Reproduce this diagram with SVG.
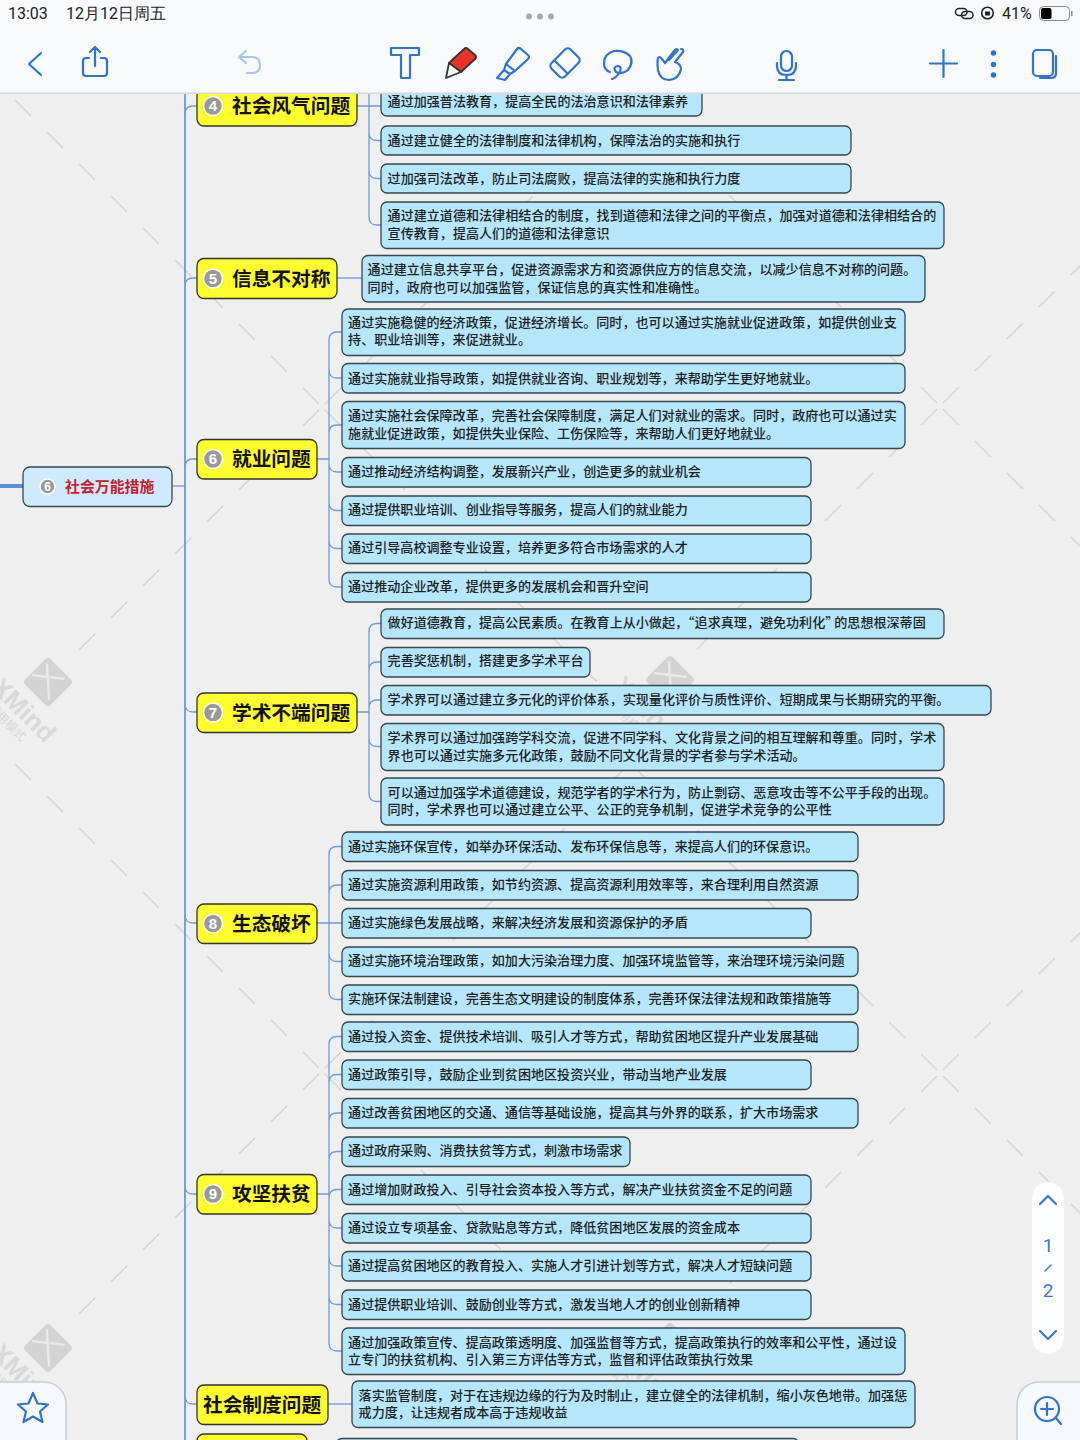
<svg xmlns="http://www.w3.org/2000/svg" xmlns:xlink="http://www.w3.org/1999/xlink" width="1080" height="1440" viewBox="0 0 1080 1440">
<style>
text{font-family:"Noto Sans CJK SC","Noto Sans",sans-serif}
.b{fill:#b5e6f9;stroke:#36474f;stroke-width:1.3}
.y{fill:#fdfd2e;stroke:#333;stroke-width:1.3}
.t{font-size:13.07px;font-weight:500;fill:#222;transform:translate(-.4px,-.8px)}
.h{font-size:19.7px;font-weight:700;fill:#111}
.m{fill:#999;stroke:#fff;stroke-width:1.5}
.n{font-size:15px;font-weight:700;fill:#fff;text-anchor:middle;font-family:"Liberation Sans",sans-serif}
.c{fill:none;stroke:#6f9bd8;stroke-width:1.3}
.wm{fill:none;stroke:#d6d6d6;stroke-width:1.6;stroke-dasharray:22.6 22.6}
.ic{fill:none;stroke:#2f72d2;stroke-width:2.2;stroke-linecap:round;stroke-linejoin:round}
.st{font-family:"Roboto","Liberation Sans",sans-serif;font-size:16px;fill:#222}
.pg{font-family:"Roboto","Liberation Sans",sans-serif;font-size:19px;fill:#3d75d0;text-anchor:middle}
</style>
<defs>
<g id="cross">
<path class="wm" d="M-3 -3L-310 -310"/>
<path class="wm" d="M3 -3L310 -310"/>
<path class="wm" d="M3 3L310 310"/>
<path class="wm" d="M-3 3L-245 245"/>
</g>
<g id="logo">
<rect x="-18" y="-18" width="36" height="36" rx="4" fill="#d3d3d3" transform="rotate(45)"/>
<path d="M-16 -4L15 -6M-4 -17L4 17" stroke="#e9e9e9" stroke-width="2.4" fill="none" stroke-linecap="round" transform="rotate(10)"/>
<text transform="translate(-3 62) rotate(45)" text-anchor="end" font-size="26" font-weight="700" fill="#d9d9d9" style="font-family:'Liberation Sans',sans-serif">XMind</text>
<text transform="translate(-27 60) rotate(45)" text-anchor="end" font-size="12" fill="#d9d9d9">试用模式</text>
</g>
</defs>
<rect width="1080" height="1440" fill="#efefef"/>
<g id="watermark">
<use href="#cross" x="322" y="407"/><use href="#cross" x="940" y="406"/><use href="#cross" x="322" y="1071"/><use href="#cross" x="940" y="1073"/>
<use href="#logo" x="48" y="682"/><use href="#logo" x="670" y="680"/><use href="#logo" x="48" y="1348"/><use href="#logo" x="670" y="1347"/>
</g>
<g id="connectors">
<path d="M0 486H23" fill="none" stroke="#5b8fd8" stroke-width="4"/>
<path class="c" d="M172 486H185" />
<path d="M185 90V1440" fill="none" stroke="#5b8fd8" stroke-width="1.6"/>
<path class="c" d="M185 114Q185 106 193 106H197M185 286Q185 278 193 278H197M185 467Q185 459 193 459H197M185 704Q185 712 193 712H197M185 915Q185 923 193 923H197M185 1186Q185 1194 193 1194H197M185 1396Q185 1404 193 1404H197"/>
<path class="c" d="M357 106H381M369 90V217Q369 225 377 225H381M369 132.5Q369 140.5 377 140.5H381M369 170.5Q369 178.5 377 178.5H381"/>
<path class="c" d="M337 278H362"/>
<path class="c" d="M317 459H329M342 332H337Q329 332 329 340V579Q329 587 337 587H342M329 370Q329 378 337 378H342M329 433Q329 425 337 425H342M329 464Q329 472 337 472H342M329 502.5Q329 510.5 337 510.5H342M329 540.5Q329 548.5 337 548.5H342"/>
<path class="c" d="M357 712H369M381 623.5H377Q369 623.5 369 631.5V793.5Q369 801.5 377 801.5H381M369 670Q369 662 377 662H381M369 708Q369 700 377 700H381M369 738.5Q369 746.5 377 746.5H381"/>
<path class="c" d="M317 923H342M342 846.5H337Q329 846.5 329 854.5V991.5Q329 999.5 337 999.5H342M329 893Q329 885 337 885H342M329 953.5Q329 961.5 337 961.5H342"/>
<path class="c" d="M317 1194H329M342 1036.5H337Q329 1036.5 329 1044.5V1343Q329 1351 337 1351H342M329 1082.5Q329 1074.5 337 1074.5H342M329 1121Q329 1113 337 1113H342M329 1159.5Q329 1151.5 337 1151.5H342M329 1197.5Q329 1189.5 337 1189.5H342M329 1220Q329 1228 337 1228H342M329 1258Q329 1266 337 1266H342M329 1296.5Q329 1304.5 337 1304.5H342"/>
<path class="c" d="M328 1404H352"/>
</g>
<g id="center"><rect x="23" y="467" width="149" height="39.500" rx="7" fill="#cfeafd" stroke="#36474f" stroke-width="1.3"/><circle class="m" cx="47.500" cy="486.500" r="7.500"/><text class="n" x="47.500" y="491" style="font-size:12px">6</text><text x="65" y="492" font-size="14.900" font-weight="700" fill="#c8202a">社会万能措施</text></g>
<g id="t4"><rect class="y" x="197" y="86" width="160" height="40" rx="7"/><circle class="m" cx="213" cy="106" r="9.500"/><text class="n" x="213" y="111">4</text><text class="h" x="232" y="113">社会风气问题</text></g>
<g id="t5"><rect class="y" x="197" y="258.500" width="140" height="40" rx="7"/><circle class="m" cx="213" cy="278.500" r="9.500"/><text class="n" x="213" y="283.500">5</text><text class="h" x="232" y="285.500">信息不对称</text></g>
<g id="t6"><rect class="y" x="197" y="439.500" width="120" height="39.500" rx="7"/><circle class="m" cx="213" cy="459" r="9.500"/><text class="n" x="213" y="464">6</text><text class="h" x="232" y="466">就业问题</text></g>
<g id="t7"><rect class="y" x="197" y="693" width="160" height="39.500" rx="7"/><circle class="m" cx="213" cy="712.500" r="9.500"/><text class="n" x="213" y="717.500">7</text><text class="h" x="232" y="719.500">学术不端问题</text></g>
<g id="t8"><rect class="y" x="197" y="904" width="120" height="39.500" rx="7"/><circle class="m" cx="213" cy="923.500" r="9.500"/><text class="n" x="213" y="928.500">8</text><text class="h" x="232" y="930.500">生态破坏</text></g>
<g id="t9"><rect class="y" x="197" y="1174.500" width="120" height="39.500" rx="7"/><circle class="m" cx="213" cy="1194" r="9.500"/><text class="n" x="213" y="1199">9</text><text class="h" x="232" y="1201">攻坚扶贫</text></g>
<g id="t10"><rect class="y" x="197" y="1385" width="131" height="39.500" rx="7"/><text class="h" x="203" y="1411.500">社会制度问题</text></g>
<g id="t11"><rect class="y" x="197" y="1434" width="110" height="40" rx="7"/></g>
<g id="n1"><rect class="b" x="381" y="80" width="321" height="36" rx="6"/><text class="t" x="388" y="106.500">通过加强普法教育，提高全民的法治意识和法律素养</text></g>
<g id="n2"><rect class="b" x="381" y="126" width="470" height="29" rx="6"/><text class="t" x="388" y="145.500">通过建立健全的法律制度和法律机构，保障法治的实施和执行</text></g>
<g id="n3"><rect class="b" x="381" y="164" width="470" height="29" rx="6"/><text class="t" x="388" y="183.500">过加强司法改革，防止司法腐败，提高法律的实施和执行力度</text></g>
<g id="n4"><rect class="b" x="381" y="202" width="563" height="46.500" rx="6"/><text class="t" x="388" y="221">通过建立道德和法律相结合的制度，找到道德和法律之间的平衡点，加强对道德和法律相结合的</text><text class="t" x="388" y="238.500">宣传教育，提高人们的道德和法律意识</text></g>
<g id="n5"><rect class="b" x="362" y="255.500" width="563" height="46.500" rx="6"/><text class="t" x="368" y="275">通过建立信息共享平台，促进资源需求方和资源供应方的信息交流，以减少信息不对称的问题。</text><text class="t" x="368" y="292.500">同时，政府也可以加强监管，保证信息的真实性和准确性。</text></g>
<g id="n6"><rect class="b" x="342" y="309" width="563" height="46.500" rx="6"/><text class="t" x="348.500" y="328">通过实施稳健的经济政策，促进经济增长。同时，也可以通过实施就业促进政策，如提供创业支</text><text class="t" x="348.500" y="345">持、职业培训等，来促进就业。</text></g>
<g id="n7"><rect class="b" x="342" y="363.500" width="563" height="29.500" rx="6"/><text class="t" x="348.500" y="383.500">通过实施就业指导政策，如提供就业咨询、职业规划等，来帮助学生更好地就业。</text></g>
<g id="n8"><rect class="b" x="342" y="401.500" width="563" height="47" rx="6"/><text class="t" x="348.500" y="421">通过实施社会保障改革，完善社会保障制度，满足人们对就业的需求。同时，政府也可以通过实</text><text class="t" x="348.500" y="438.500">施就业促进政策，如提供失业保险、工伤保险等，来帮助人们更好地就业。</text></g>
<g id="n9"><rect class="b" x="342" y="457.500" width="469" height="29.500" rx="6"/><text class="t" x="348.500" y="476.500">通过推动经济结构调整，发展新兴产业，创造更多的就业机会</text></g>
<g id="n10"><rect class="b" x="342" y="496" width="469" height="29.500" rx="6"/><text class="t" x="348.500" y="515">通过提供职业培训、创业指导等服务，提高人们的就业能力</text></g>
<g id="n11"><rect class="b" x="342" y="534" width="469" height="29.500" rx="6"/><text class="t" x="348.500" y="553">通过引导高校调整专业设置，培养更多符合市场需求的人才</text></g>
<g id="n12"><rect class="b" x="342" y="572.500" width="469" height="29.500" rx="6"/><text class="t" x="348.500" y="591.500">通过推动企业改革，提供更多的发展机会和晋升空间</text></g>
<g id="n13"><rect class="b" x="381" y="609" width="563" height="29.500" rx="6"/><text class="t" x="388" y="628">做好道德教育，提高公民素质。在教育上从小做起，“追求真理，避免功利化”<tspan dx="-4">的思想根深蒂固</tspan></text></g>
<g id="n14"><rect class="b" x="381" y="647.500" width="209" height="29.500" rx="6"/><text class="t" x="388" y="666">完善奖惩机制，搭建更多学术平台</text></g>
<g id="n15"><rect class="b" x="381" y="685.500" width="610" height="29.500" rx="6"/><text class="t" x="388" y="704.500">学术界可以通过建立多元化的评价体系，实现量化评价与质性评价、短期成果与长期研究的平衡。</text></g>
<g id="n16"><rect class="b" x="381" y="723.500" width="563" height="47" rx="6"/><text class="t" x="388" y="743">学术界可以通过加强跨学科交流，促进不同学科、文化背景之间的相互理解和尊重。同时，学术</text><text class="t" x="388" y="760.500">界也可以通过实施多元化政策，鼓励不同文化背景的学者参与学术活动。</text></g>
<g id="n17"><rect class="b" x="381" y="778" width="563" height="47" rx="6"/><text class="t" x="388" y="797.500">可以通过加强学术道德建设，规范学者的学术行为，防止剽窃、恶意攻击等不公平手段的出现。</text><text class="t" x="388" y="815">同时，学术界也可以通过建立公平、公正的竞争机制，促进学术竞争的公平性</text></g>
<g id="n18"><rect class="b" x="342" y="832" width="516" height="29.500" rx="6"/><text class="t" x="348.500" y="851.500">通过实施环保宣传，如举办环保活动、发布环保信息等，来提高人们的环保意识。</text></g>
<g id="n19"><rect class="b" x="342" y="870.500" width="516" height="29.500" rx="6"/><text class="t" x="348.500" y="889.500">通过实施资源利用政策，如节约资源、提高资源利用效率等，来合理利用自然资源</text></g>
<g id="n20"><rect class="b" x="342" y="908.500" width="469" height="29.500" rx="6"/><text class="t" x="348.500" y="928">通过实施绿色发展战略，来解决经济发展和资源保护的矛盾</text></g>
<g id="n21"><rect class="b" x="342" y="947" width="516" height="29.500" rx="6"/><text class="t" x="348.500" y="966">通过实施环境治理政策，如加大污染治理力度、加强环境监管等，来治理环境污染问题</text></g>
<g id="n22"><rect class="b" x="342" y="985" width="516" height="29.500" rx="6"/><text class="t" x="348.500" y="1004">实施环保法制建设，完善生态文明建设的制度体系，完善环保法律法规和政策措施等</text></g>
<g id="n23"><rect class="b" x="342" y="1022" width="516" height="29.500" rx="6"/><text class="t" x="348.500" y="1041.500">通过投入资金、提供技术培训、吸引人才等方式，帮助贫困地区提升产业发展基础</text></g>
<g id="n24"><rect class="b" x="342" y="1060" width="469" height="29.500" rx="6"/><text class="t" x="348.500" y="1079.500">通过政策引导，鼓励企业到贫困地区投资兴业，带动当地产业发展</text></g>
<g id="n25"><rect class="b" x="342" y="1098.500" width="516" height="29.500" rx="6"/><text class="t" x="348.500" y="1118">通过改善贫困地区的交通、通信等基础设施，提高其与外界的联系，扩大市场需求</text></g>
<g id="n26"><rect class="b" x="342" y="1137" width="288" height="29.500" rx="6"/><text class="t" x="348.500" y="1156">通过政府采购、消费扶贫等方式，刺激市场需求</text></g>
<g id="n27"><rect class="b" x="342" y="1175" width="469" height="29.500" rx="6"/><text class="t" x="348.500" y="1194.500">通过增加财政投入、引导社会资本投入等方式，解决产业扶贫资金不足的问题</text></g>
<g id="n28"><rect class="b" x="342" y="1213.500" width="469" height="29.500" rx="6"/><text class="t" x="348.500" y="1232.500">通过设立专项基金、贷款贴息等方式，降低贫困地区发展的资金成本</text></g>
<g id="n29"><rect class="b" x="342" y="1251.500" width="469" height="29.500" rx="6"/><text class="t" x="348.500" y="1270.500">通过提高贫困地区的教育投入、实施人才引进计划等方式，解决人才短缺问题</text></g>
<g id="n30"><rect class="b" x="342" y="1290" width="469" height="29.500" rx="6"/><text class="t" x="348.500" y="1309.500">通过提供职业培训、鼓励创业等方式，激发当地人才的创业创新精神</text></g>
<g id="n31"><rect class="b" x="342" y="1328" width="563" height="46.500" rx="6"/><text class="t" x="348.500" y="1347.500">通过加强政策宣传、提高政策透明度、加强监督等方式，提高政策执行的效率和公平性，通过设</text><text class="t" x="348.500" y="1365">立专门的扶贫机构、引入第三方评估等方式，监督和评估政策执行效果</text></g>
<g id="n32"><rect class="b" x="352" y="1381" width="563" height="46.500" rx="6"/><text class="t" x="359" y="1400.500">落实监管制度，对于在违规边缘的行为及时制止，建立健全的法律机制，缩小灰色地带。加强惩</text><text class="t" x="359" y="1418">戒力度，让违规者成本高于违规收益</text></g>
<g id="n33"><rect class="b" x="336" y="1438.500" width="463" height="40" rx="6"/></g>
<g id="toolbar">
<rect width="1080" height="93" fill="#f7f9fa"/>
<rect y="92.500" width="1080" height="1.500" fill="#d6d8da"/>
<text class="st" x="8" y="19">13:03</text><text class="st" x="66" y="19">12月12日周五</text>
<circle cx="529" cy="16.500" r="3" fill="#a8a8a8"/><circle cx="540" cy="16.500" r="3" fill="#a8a8a8"/><circle cx="551" cy="16.500" r="3" fill="#a8a8a8"/>
<rect x="955.500" y="8.500" width="11.500" height="7" rx="3.500" fill="none" stroke="#222" stroke-width="1.500"/><rect x="961.500" y="11.500" width="11.500" height="7" rx="3.500" fill="none" stroke="#222" stroke-width="1.500"/>
<circle cx="987.500" cy="13" r="5.800" fill="none" stroke="#222" stroke-width="1.600"/><rect x="985" y="11.500" width="5" height="4" fill="#222"/>
<text class="st" x="1002" y="19">41%</text>
<rect x="1039.500" y="6.500" width="30" height="14" rx="4" fill="none" stroke="#888" stroke-width="1"/><rect x="1041" y="8" width="10.500" height="11" rx="2" fill="#000"/><rect x="1071" y="11" width="1.500" height="5" fill="#888"/>
<path class="ic" d="M41 53L29 64L41 75"/>
<path class="ic" d="M89 58H86Q83 58 83 61V73Q83 76 86 76H104Q107 76 107 73V61Q107 58 104 58H101M95 66V48M90 52L95 47L100 52"/>
<path class="ic" style="stroke:#a9c5ee" d="M246 51L239 57L246 63M239 57H252Q260 57 260 65T252 73H247"/>
<path class="ic" d="M391 48H419V55H410V78H401V55H391Z"/>
<path d="M464 49Q466 47 468 49L475 55Q477 57 475 59L461 72L449 63Z" fill="#e8332a" stroke="#333" stroke-width="1.800" stroke-linejoin="round"/><path d="M449 63L461 72L446 78Z" fill="#fff" stroke="#333" stroke-width="1.800" stroke-linejoin="round"/>
<path class="ic" d="M517 49Q519 47 521 49L528 55Q530 57 528 59L515 71L506 64ZM506 64L504 70L510 74L515 71M504 70L497 78L505 80L510 74"/>
<rect class="ic" x="551.500" y="53.500" width="27" height="19" rx="4" transform="rotate(-45 565 63)"/>
<path class="ic" d="M554.500 60.500L567.500 73.500"/>
<path class="ic" d="M612 79Q616 78 620 72Q622 66 618 66Q612 67 616 72Q622 75 628 70Q634 62 630 56Q624 50 614 51Q604 54 604 63Q604 70 610 72"/>
<path class="ic" d="M681 49Q684 49 683 52L675 62Q681 64 681 69Q679 79 669 80Q660 80 658 70Q657 62 658 58Q660 56 662 59L665 63L674 51Q676 48 678 50L669 60"/>
<rect class="ic" x="781" y="51" width="11" height="20" rx="5.500"/><path class="ic" d="M777 63V66Q777 75 786.500 75T796 66V63M786.500 75V80M779 80H794"/>
<path class="ic" d="M930 63.500H957M943.500 50V77"/>
<circle cx="993.500" cy="53" r="2.700" fill="#2f72d2"/><circle cx="993.500" cy="64.500" r="2.700" fill="#2f72d2"/><circle cx="993.500" cy="75" r="2.700" fill="#2f72d2"/>
<rect class="ic" x="1033" y="50" width="20" height="26" rx="4"/><path class="ic" d="M1056 56V73Q1056 78 1051 78H1040"/>
</g>
<g id="pager">
<rect x="1032" y="1182" width="32" height="172" rx="16" fill="#fbfdff"/>
<path class="ic" d="M1040 1204L1048 1196L1056 1204M1040 1331L1048 1339L1056 1331" style="stroke:#3d75d0"/>
<text class="pg" x="1048" y="1252">1</text><path class="ic" d="M1045 1271L1051 1265" style="stroke:#3d75d0;stroke-width:1.500"/><text class="pg" x="1048" y="1297">2</text>
</g>
<g id="bookmark">
<rect x="-20" y="1382" width="86" height="90" rx="22" fill="#f5f8fc" stroke="#c5ccd6" stroke-width="1.500"/>
<path class="ic" d="M33 1393L37.500 1403.500L48 1404.500L40 1411.500L42.500 1422L33 1416.500L23.500 1422L26 1411.500L18 1404.500L28.500 1403.500Z"/>
</g>
<g id="zoomin">
<rect x="1017" y="1382" width="86" height="90" rx="22" fill="#f5f8fc" stroke="#c5ccd6" stroke-width="1.500"/>
<circle class="ic" cx="1047" cy="1409" r="12"/><path class="ic" d="M1056 1418L1061 1424M1041 1409H1053M1047 1403V1415"/>
</g>
</svg>
